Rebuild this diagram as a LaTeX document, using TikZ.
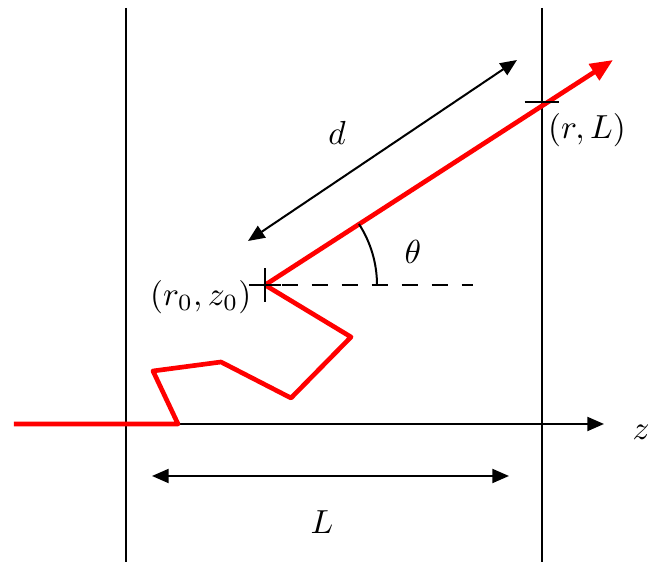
\documentclass[tikz,border=0pt]{standalone}
\usetikzlibrary{arrows.meta}
\begin{document}
\begin{tikzpicture}[x=0.3pt,y=-0.3pt,
  thin line/.style={line width=0.6pt,black},
  walk/.style={line width=1.4pt,red,line join=round},
  ax/.style={thin line,-{Triangle[length=5pt,width=4.2pt]}},
  dbl/.style={thin line,{Triangle[length=5pt,width=4.2pt]}-{Triangle[length=5pt,width=4.2pt]}},
  lab/.style={inner sep=0pt}]
\useasboundingbox (0,0) rectangle (665,571);
% walls
\coordinate (w1t) at (126,8); \coordinate (w1b) at (126,562);
\coordinate (w2t) at (542,8); \coordinate (w2b) at (542,562);
\draw[thin line] (w1t) -- (w1b);
\draw[thin line] (w2t) -- (w2b);
% z axis
\coordinate (zs) at (126,424); \coordinate (ze) at (604,424);
\draw[ax] (zs) -- (ze);
\node[lab] (zl) at (641,432) {$z$};
% L arrow
\coordinate (La) at (152,476); \coordinate (Lb) at (509,476);
\draw[dbl] (La) -- (Lb);
\node[lab] (Ll) at (322,522) {$L$};
% random walk
\coordinate (p0) at (14,424);
\coordinate (p1) at (178,424);
\coordinate (p2) at (153,371);
\coordinate (p3) at (221,362);
\coordinate (p4) at (291,398);
\coordinate (p5) at (351,337);
\coordinate (o) at (265,285);
\coordinate (tip) at (613,60);
\coordinate (hit) at (542,102);
\draw[walk] (p0) -- (p1) -- (p2) -- (p3) -- (p4) -- (p5) -- (o);
\draw[walk,-{Triangle[length=6.8pt,width=5.6pt]}] (o) -- (tip);
% ticks
\draw[thin line] ([xshift=-4.8pt]o) -- ([xshift=4.8pt]o);
\draw[thin line] ([yshift=5pt]o) -- ([yshift=-5pt]o);
\draw[thin line] ([xshift=-5.2pt]hit) -- ([xshift=5.2pt]hit);
% dashed
\coordinate (de) at (473,285);
\draw[thin line,dash pattern=on 5pt off 4pt] (o) ++(5pt,0) -- (de);
% angle
\draw[thin line] ([xshift=112*0.3pt]o) arc[start angle=0,end angle=33,radius=33.6pt];
\node[lab] (th) at (413,252) {$\theta$};
% d arrow
\coordinate (da) at (248,241); \coordinate (db) at (517,60);
\draw[dbl] (da) -- (db);
\node[lab] (dl) at (337,133) {$d$};
% labels
\node[lab,anchor=east] (ol) at (252,297) {$(r_0,z_0)$};
\node[lab] (hl) at (587,130) {$(r,L)$};
\end{tikzpicture}
\end{document}
